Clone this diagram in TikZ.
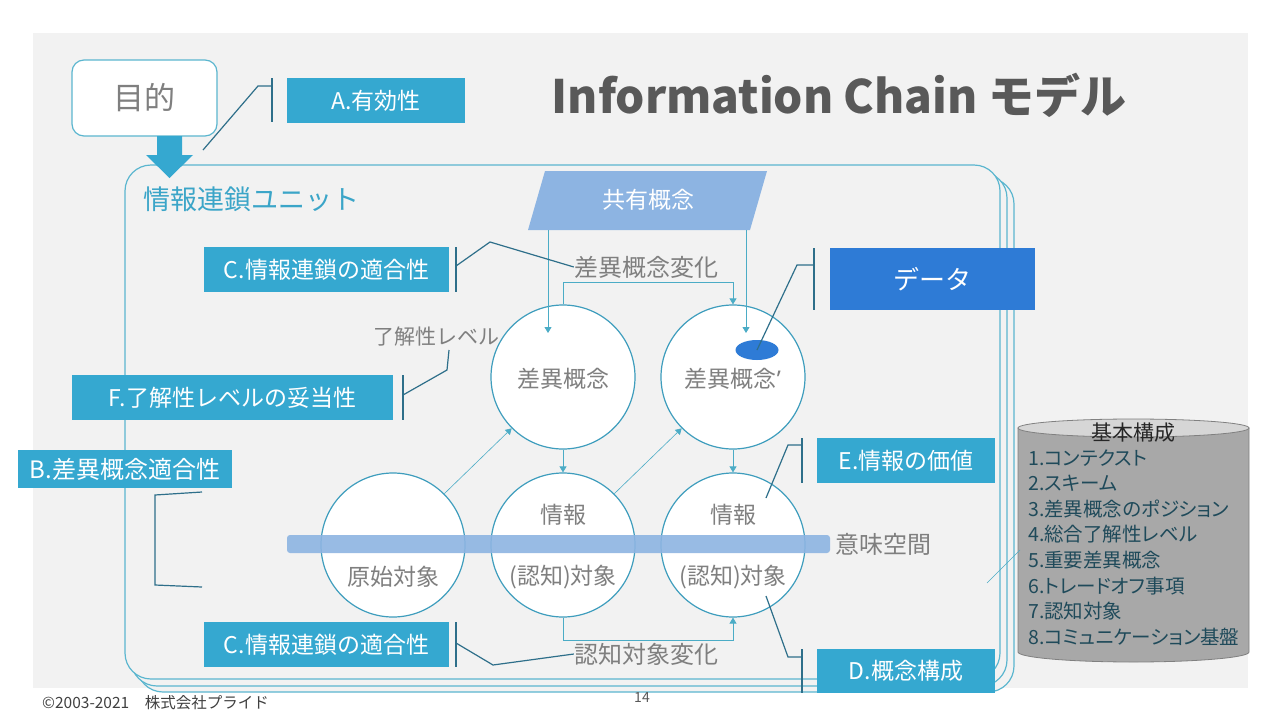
\documentclass[tikz,border=0pt]{standalone}
\usepackage{fontspec}
\setmainfont{Noto Sans CJK JP}
\newfontfamily\latinf{Noto Sans}
\newfontfamily\listfont[RawFeature=+palt]{Noto Sans CJK JP}
\usetikzlibrary{arrows.meta,shapes.geometric,calc}
\definecolor{slidebg}{HTML}{F2F2F2}
\definecolor{tealbox}{HTML}{35A8D0}
\definecolor{tealline}{HTML}{4BACC6}
\definecolor{unitline}{HTML}{5BB6CF}
\definecolor{circleln}{HTML}{3E9DBD}
\definecolor{callln}{HTML}{2E6F8A}
\definecolor{graytxt}{HTML}{7F7F7F}
\definecolor{titlegray}{HTML}{595959}
\definecolor{bandblue}{HTML}{8DB4E2}
\definecolor{datablue}{HTML}{2E7BD6}
\definecolor{listtxt}{HTML}{1F4A5A}
\definecolor{unitteal}{HTML}{3BA5C8}
\definecolor{cylbody}{HTML}{A8A8A8}
\definecolor{cyltop}{HTML}{D6D6D6}
\definecolor{cylline}{HTML}{808080}
\definecolor{footgray}{HTML}{404040}
\begin{document}
\begin{tikzpicture}[x=1pt,y=-1pt,
  callbox/.style={fill=tealbox, text=white, inner sep=0pt, minimum height=45pt, font=\fontsize{23}{27}\selectfont},
  callline/.style={draw=callln, line width=1.2pt},
  flow/.style={draw=tealline, line width=0.8pt, -{Triangle[width=7pt,length=6pt]}},
  bubble/.style={circle, draw=circleln, fill=white, line width=1.2pt, minimum size=144pt, inner sep=0pt},
  gtext/.style={text=graytxt, font=\fontsize{23}{27}\selectfont, inner sep=0pt},
  cardbox/.style={draw=unitline, line width=1.2pt, fill=slidebg, rounded corners=26pt}
]
\useasboundingbox (0,0) rectangle (1280,718);
\fill[white] (0,0) rectangle (1280,718);
\fill[slidebg] (33,33) rectangle (1248,688);

% stacked unit container
\draw[cardbox] (137,178) rectangle (1014,692);
\draw[cardbox] (131,172) rectangle (1007,686);
\draw[cardbox] (125,165) rectangle (1000,679);
\node[font=\fontsize{27}{32}\selectfont, text=unitteal, anchor=west, inner sep=0pt] (unitlabel) at (143,199) {情報連鎖ユニット};

% title
\node[font=\fontsize{46}{54}\selectfont\bfseries, text=titlegray, inner sep=0pt] (title) at (839,95) {Information Chain モデル};

% goal
\node[draw=unitline, fill=white, rounded corners=12pt, line width=1.2pt, minimum width=145pt, minimum height=76pt, inner sep=0pt, text=graytxt, font=\fontsize{31}{36}\selectfont] (goal) at (144.5,98) {目的};
\fill[tealbox] (157,136) -- (182,136) -- (182,155) -- (193,155) -- (169.5,178) -- (146,155) -- (157,155) -- cycle;

% A
\node[callbox, minimum width=178pt] (boxA) at (376,100.5) {A.有効性};
\draw[callline] (272,78) -- (272,122);
\coordinate (barA) at (272,86);
\coordinate (tipA) at (203,150);
\draw[callline] (barA) -- ++(-14,0) -- (tipA);

% shared concept
\fill[bandblue] (545,171) -- (767,171) -- (750,230) -- (528,230) -- cycle;
\node[text=white, font=\fontsize{23}{27}\selectfont, inner sep=0pt] (shared) at (648,200) {共有概念};

% circles
\node[bubble] (c1) at (563,377) {};
\node[bubble] (c2) at (733,377) {};
\node[bubble] (c3) at (393,545) {};
\node[bubble] (c4) at (563,545) {};
\node[bubble] (c5) at (733,545) {};

% flows
\coordinate (sL) at (548,230);
\coordinate (sR) at (746,230);
\coordinate (sLe) at (548,333);
\coordinate (sRe) at (746,333);
\draw[flow] (sL) -- (sLe);
\draw[flow] (sR) -- (sRe);
\draw[flow] (c1.north) -- ++(0,-22) -| (c2.north);
\draw[flow] (c4.south) -- ++(0,23) -| (c5.south);
\draw[flow, line width=0.6pt] (c3.45) -- (c1.225);
\draw[flow, line width=0.6pt] (c4.45) -- (c2.225);
\draw[flow] (c1.south) -- (c4.north);
\draw[flow] (c2.south) -- (c5.north);

% band
\node[fill=bandblue, fill opacity=0.9, rounded corners=3pt, minimum width=543pt, minimum height=18pt, inner sep=0pt] (band) at (558.5,544) {};
\node[gtext, font=\fontsize{24}{28}\selectfont] (space) at (883,544) {意味空間};

% circle texts
\node[gtext] (t1) at (563,379) {差異概念};
\node[gtext] (t2) at (733,379) {差異概念{\latinf ’}};
\node[gtext] (t3) at (393,577) {原始対象};
\node[gtext] (t4a) at (563,515) {情報};
\node[gtext] (t4b) at (563,577) {(認知)対象};
\node[gtext] (t5a) at (733,515) {情報};
\node[gtext] (t5b) at (733,577) {(認知)対象};

% labels
\node[gtext, font=\fontsize{24}{28}\selectfont] (chg1) at (646,267) {差異概念変化};
\node[gtext, font=\fontsize{24}{28}\selectfont] (chg2) at (646,654) {認知対象変化};
\node[gtext, font=\fontsize{21}{25}\selectfont] (lvl) at (436,337) {了解性レベル};

% C top
\node[callbox, minimum width=245pt] (boxC1) at (326.5,269.5) {C.情報連鎖の適合性};
\draw[callline] (456,247) -- (456,292);
\coordinate (barC1) at (456,266);
\draw[callline] (barC1) -- (490,242) -- (chg1.west);

% C bottom
\node[callbox, minimum width=245pt] (boxC2) at (326.5,644.5) {C.情報連鎖の適合性};
\draw[callline] (456,622) -- (456,667);
\coordinate (barC2) at (456,643);
\draw[callline] (barC2) -- (493,665) -- (chg2.west);

% F
\node[callbox, minimum width=321pt] (boxF) at (232.5,397.5) {F.了解性レベルの妥当性};
\draw[callline] (403,375) -- (403,420);
\coordinate (barF) at (403,395);
\coordinate (tipF) at (449,350);
\draw[callline] (barF) -- (447,370) -- (tipF);

% B
\node[callbox, minimum width=214pt, minimum height=38pt, font=\fontsize{24}{28}\selectfont] (boxB) at (125,469) {B.差異概念適合性};
\draw[callline] (202,492) -- (155,495) -- (155,585) -- (202,587);

% data
\node[fill=datablue, text=white, minimum width=205pt, minimum height=62pt, inner sep=0pt, font=\fontsize{26}{30}\selectfont] (data) at (932.5,279) {データ};
\draw[callline] (814,248) -- (814,310);
\node[ellipse, fill=datablue, minimum width=43pt, minimum height=20pt, inner sep=0pt] (dot) at (757,350) {};
\coordinate (barD0) at (814,265);
\draw[callline] (barD0) -- ++(-17,0) -- (dot.center);

% E
\node[callbox, minimum width=178pt] (boxE) at (906,460.5) {E.情報の価値};
\draw[callline] (802,438) -- (802,483);
\coordinate (barE) at (802,445);
\coordinate (tipE) at (766,498);
\draw[callline] (barE) -- ++(-14,0) -- (tipE);

% D
\node[callbox, minimum width=178pt, minimum height=44pt] (boxD) at (906,671) {D.概念構成};
\draw[callline] (802,649) -- (802,693);
\coordinate (barDD) at (802,657);
\coordinate (tipD) at (766,596);
\draw[callline] (barDD) -- ++(-14,0) -- (tipD);

% cylinder
\path[fill=cylbody, draw=cylline, line width=0.8pt] (1018,428) -- (1018,652) arc (180:0:115.5 and 10) -- (1249,428) -- cycle;
\draw[fill=cyltop, draw=cylline, line width=0.8pt] (1133.5,428) ellipse (115.5 and 9);
\node[inner sep=0pt, text=black!85, font=\fontsize{21}{25}\selectfont] (cyl) at (1133,433) {基本構成};
\foreach \t [count=\i] in {コンテクスト,スキーム,差異概念のポジション,総合了解性レベル,重要差異概念,トレードオフ事項,認知対象,コミュニケーション基盤}
  \node[anchor=base west, inner sep=0pt, text=listtxt, font=\fontsize{19.5}{23}\listfont] (item\i) at (1028,{465+25.6*(\i-1)}) {\i.\t};
\coordinate (cylL) at (1020,550);
\coordinate (cylE) at (987,583);
\draw[tealline, line width=0.6pt] (cylL) -- (cylE);

% footer
\node[anchor=west, inner sep=0pt, font=\fontsize{15.5}{18}\selectfont, text=footgray] (copy) at (42,703) {©2003-2021　株式会社プライド};
\node[inner sep=0pt, font=\fontsize{14}{16}\selectfont, text=titlegray] (page) at (642,697) {14};
\end{tikzpicture}
\end{document}
